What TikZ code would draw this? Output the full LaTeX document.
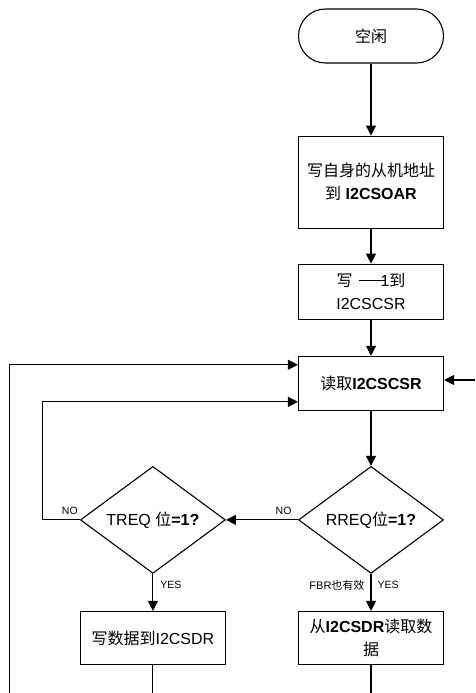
\documentclass[tikz,border=0pt]{standalone}
\usepackage{fontspec}
\setmainfont{Liberation Sans}
\newfontfamily\zh{Noto Sans CJK SC}
\usepackage{tikz}
\usetikzlibrary{shapes,arrows.meta,positioning,calc}

\begin{document}
\begin{tikzpicture}[
    x=1pt, y=-1pt,
    line width=1.1pt,
    box/.style={draw, minimum width=145pt, minimum height=54pt, inner sep=2pt, align=center, font=\fontsize{16}{23}\selectfont},
    term/.style={box, rounded corners=27pt},
    cond/.style={draw, diamond, shape aspect=1.35, minimum width=145pt, minimum height=107pt, inner sep=0pt, align=center, font=\fontsize{16}{23}\selectfont},
    arr/.style={-{Triangle[length=10pt,width=10pt]}},
    lbl/.style={font=\fontsize{10.5}{12}\selectfont, inner sep=2pt}
]
    \useasboundingbox (0,0) rectangle (475,693);

    % Idle state
    \node[term] (idle) at (371,36) {{\zh 空闲}};

    % Write own slave address
    \node[box, minimum height=92pt, below=72pt of idle] (wown) {
        {\zh 写自身的从机地址}\\
        {\zh 到} \textbf{I2CSOAR}
    };

    % Write 1 to I2CSCSR
    \node[box, minimum height=55pt, below=35pt of wown] (wcsr) {
        {\zh 写}\hspace{6pt}\rule[0.35em]{26pt}{1.5pt}\kern-4pt 1{\zh 到}\\
        I2CSCSR
    };

    % Read I2CSCSR
    \node[box, below=36pt of wcsr] (rdcsr) {{\zh 读取}\textbf{I2CSCSR}};

    % RREQ test
    \node[cond, below=55pt of rdcsr] (rreq) {RREQ{\zh 位}\textbf{=1?}};

    % TREQ test
    \node[cond, left=72pt of rreq] (treq) {TREQ {\zh 位}\textbf{=1?}};

    % Data boxes
    \node[box, minimum height=53pt, below=37pt of rreq] (rdata) {
        {\zh 从}\textbf{I2CSDR}{\zh 读取数}\\
        {\zh 据}
    };
    \node[box, minimum height=53pt, below=37pt of treq] (wdata) {{\zh 写数据到}I2CSDR};

    % loose ends at the picture border
    \coordinate (lloop) at (9.5,693);
    \coordinate (rloop) at (475,380);
    \coordinate (wend) at (wdata.south |- 0,693);
    \coordinate (rend) at (rdata.south |- 0,693);

    % Connectors
    \draw[arr] (idle) -- (wown);
    \draw[arr] (wown) -- (wcsr);
    \draw[arr] (wcsr) -- (rdcsr);
    \draw[arr] (rdcsr) -- (rreq);
    \draw[arr] (rreq.west) -- node[lbl, pos=0.2, above=3pt] {NO} (treq.east);
    \draw[arr] (treq.west) -- node[lbl, pos=0.27, above=3pt] {NO} ($(treq.west)+(-37,0)$)
        |- ([yshift=9pt]rdcsr.south west);
    \draw[arr] (treq) -- node[lbl, pos=0.3, right=5pt] {YES} (wdata);
    \draw[arr] (rreq) -- node[lbl, pos=0.3, right=4pt] {YES}
        node[lbl, pos=0.3, left=4pt, font=\fontsize{11}{12}\selectfont] {FBR{\zh 也有效}} (rdata);
    \draw[arr] (lloop) |- ([yshift=-9pt]rdcsr.north west);
    \draw[arr] (rloop) -- (rloop -| rdcsr.east);
    \draw (wdata) -- (wend);
    \draw (rdata) -- (rend);
\end{tikzpicture}
\end{document}
